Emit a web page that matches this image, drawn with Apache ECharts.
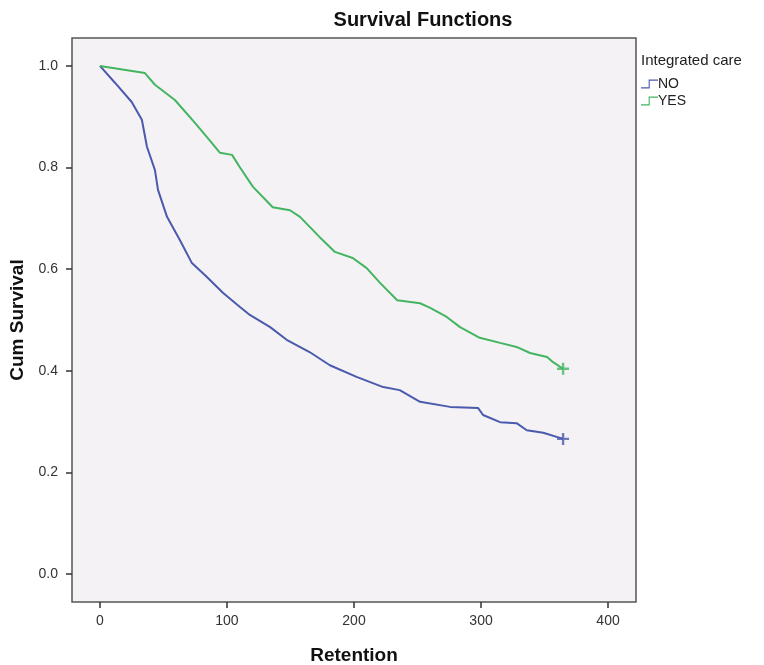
<!DOCTYPE html>
<html>
<head>
<meta charset="utf-8">
<script src="https://cdn.jsdelivr.net/npm/echarts@6/dist/echarts.min.js"></script>
<style>html,body{margin:0;padding:0;background:#fff;}#c{width:764px;height:665px;}</style>
</head>
<body>
<div id="c"></div>
<script>
// Retention (days) and cumulative survival
var noTimes = [0, 11.8, 25, 33, 37, 43.3, 45.7, 52.8, 63, 72.4, 84, 97, 110, 118, 134, 147, 165, 181, 202, 223, 236, 252, 275.6, 297.6, 301.6, 315, 328, 336, 349, 364.6];
var noSurv  = [1.0, 0.967, 0.929, 0.894, 0.841, 0.795, 0.756, 0.703, 0.657, 0.612, 0.585, 0.553, 0.526, 0.510, 0.486, 0.461, 0.437, 0.411, 0.388, 0.368, 0.362, 0.339, 0.329, 0.327, 0.313, 0.299, 0.297, 0.283, 0.278, 0.266];
var yesTimes = [0, 35.4, 43.3, 59, 74.8, 88.2, 94.5, 104, 110, 120.5, 136, 149.6, 157.5, 173, 185, 199, 210, 220.5, 234, 252, 260, 273, 283.5, 299, 315, 328, 338.6, 352, 356.7, 364.6];
var yesSurv  = [1.0, 0.986, 0.963, 0.933, 0.888, 0.848, 0.829, 0.825, 0.801, 0.762, 0.722, 0.716, 0.703, 0.663, 0.634, 0.622, 0.602, 0.573, 0.539, 0.533, 0.524, 0.506, 0.486, 0.465, 0.455, 0.447, 0.435, 0.427, 0.417, 0.404];
var noCensor = [[364.6, 0.266]];
var yesCensor = [[364.6, 0.404]];
var xTicks = [0, 100, 200, 300, 400];
var yTicks = [0, 0.2, 0.4, 0.6, 0.8, 1.0];

function zip(a, b) { return a.map(function (v, i) { return [v, b[i]]; }); }

var blue = '#4a5aad', green = '#43b561';
var plus = 'path://M4,0h2v4h4v2h-4v4h-2v-4h-4v-2h4z';
var stepIcon = 'path://M0,9h9v-9h11v1.3h-9.7v9h-10.3z';
var font = '"Liberation Sans", Arial, sans-serif';

var chart = echarts.init(document.getElementById('c'), null, {renderer: 'canvas'});
chart.setOption({
  animation: false,
  backgroundColor: '#ffffff',
  title: [
    {text: 'Survival Functions', left: 418, top: 5, textAlign: 'center',
     textStyle: {fontFamily: font, fontSize: 20, fontWeight: 'bold', color: '#111'}},
    {text: 'Integrated care', left: 636, top: 48,
     textStyle: {fontFamily: font, fontSize: 15, fontWeight: 'normal', color: '#222'}}
  ],
  legend: {
    orient: 'vertical', left: 636, top: 72, itemGap: 3, itemWidth: 17, itemHeight: 10,
    data: [{name: 'NO', icon: stepIcon, itemStyle: {color: blue}},
           {name: 'YES', icon: stepIcon, itemStyle: {color: green}}],
    textStyle: {fontFamily: font, fontSize: 14, color: '#222', padding: [0, 0, 0, -5]}
  },
  grid: {left: 72, top: 38, right: 128, bottom: 63, show: true, containLabel: false,
         outerBoundsMode: 'none',
         backgroundColor: '#f5f2f5', borderColor: '#555', borderWidth: 1.5},
  xAxis: {
    type: 'value', min: -22, max: 422, position: 'bottom',
    name: 'Retention', nameLocation: 'middle', nameGap: 44,
    nameTextStyle: {fontFamily: font, fontSize: 19, fontWeight: 'bold', color: '#111'},
    axisLine: {show: false, onZero: false}, splitLine: {show: false},
    axisTick: {show: true, length: 6, customValues: xTicks, lineStyle: {color: '#333', width: 1.5}},
    axisLabel: {customValues: xTicks, margin: 12, fontFamily: font, fontSize: 14, color: '#333'}
  },
  yAxis: {
    type: 'value', min: -0.055, max: 1.055, position: 'left',
    name: 'Cum Survival', nameLocation: 'middle', nameGap: 45, nameRotate: 90,
    nameTextStyle: {fontFamily: font, fontSize: 19, fontWeight: 'bold', color: '#111'},
    axisLine: {show: false, onZero: false}, splitLine: {show: false},
    axisTick: {show: true, length: 6, customValues: yTicks, lineStyle: {color: '#333', width: 1.5}},
    axisLabel: {customValues: yTicks, margin: 14, fontFamily: font, fontSize: 14, color: '#333',
                formatter: function (v) { return v.toFixed(1); }}
  },
  series: [
    {name: 'NO', type: 'line', data: zip(noTimes, noSurv), showSymbol: false, symbol: 'none',
     lineStyle: {color: blue, width: 2}, itemStyle: {color: blue}},
    {name: 'YES', type: 'line', data: zip(yesTimes, yesSurv), showSymbol: false, symbol: 'none',
     lineStyle: {color: green, width: 2}, itemStyle: {color: green}},
    {name: 'NO censored', type: 'scatter', data: noCensor, symbol: plus, symbolSize: 12,
     itemStyle: {color: blue}},
    {name: 'YES censored', type: 'scatter', data: yesCensor, symbol: plus, symbolSize: 12,
     itemStyle: {color: green}}
  ]
});
</script>
</body>
</html>
